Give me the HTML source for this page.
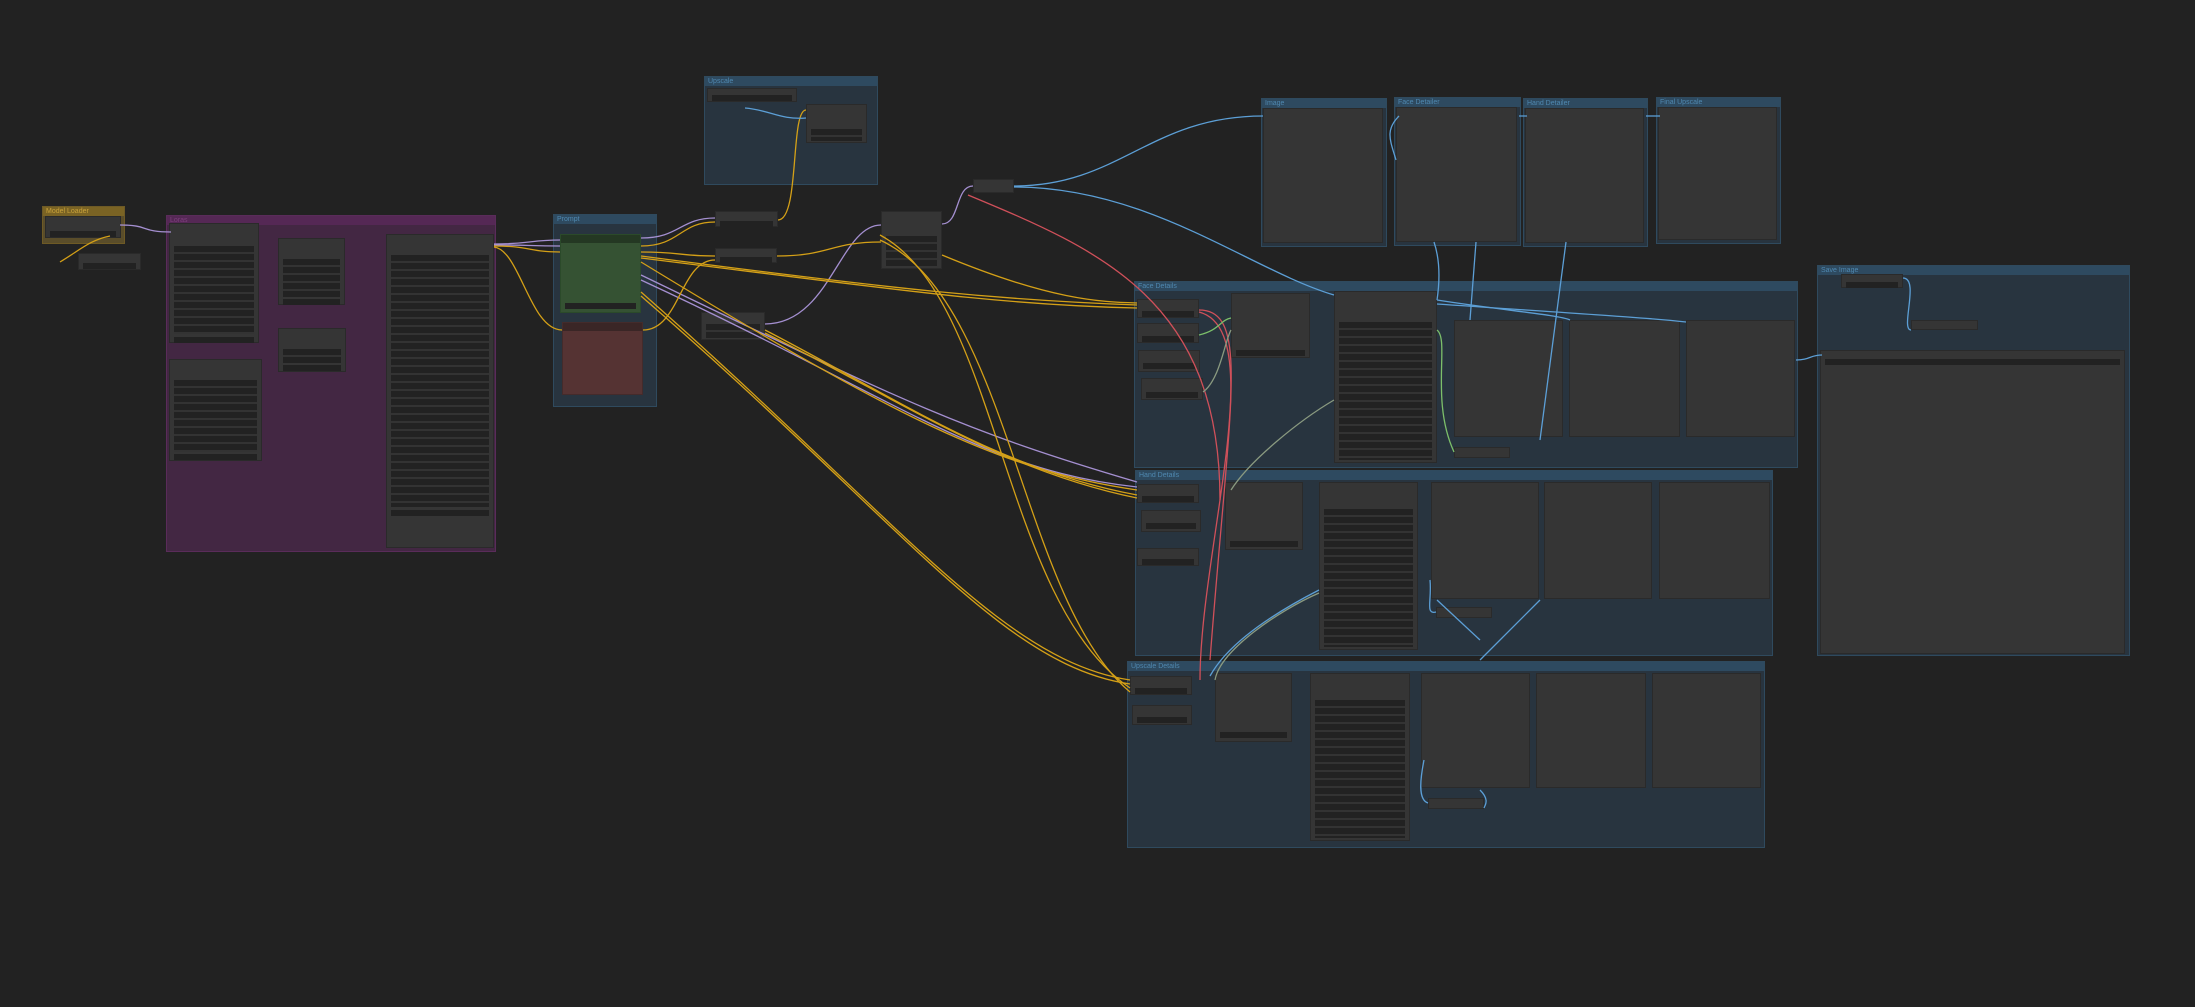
<!DOCTYPE html>
<html><head><meta charset="utf-8"><style>
html,body{margin:0;padding:0;background:#222;width:2195px;height:1007px;overflow:hidden;font-family:"Liberation Sans",sans-serif}
.g{position:absolute;background:#28343f;border:1px solid #2f4a5e}
.g>.t{height:9px;background:#2e4a60;color:#4f88b0;font-size:7px;line-height:9px;padding-left:3px}
.n{position:absolute;background:#353535;border:1px solid #2a2a2a;box-sizing:border-box}
.n>.h{height:8px;background:#2e2e2e}
.rows{position:absolute;left:4px;right:4px;background:repeating-linear-gradient(#222 0 6px,#333 6px 8px)}
.w{position:absolute;height:6px;background:#222;left:4px;right:4px}
svg{position:absolute;left:0;top:0}
</style></head><body>

<!-- yellow group -->
<div class="g" style="left:42px;top:206px;width:81px;height:36px;background:#5a4d2a;border-color:#6e5a25"><div class="t" style="background:#7a6324;color:#c9a23a">Model Loader</div></div>
<div class="n" style="left:45px;top:216px;width:76px;height:22px"><div class="w" style="top:14px"></div></div>
<div class="n" style="left:78px;top:253px;width:63px;height:17px"><div class="w" style="top:9px"></div></div>

<!-- Loras group -->
<div class="g" style="left:166px;top:215px;width:328px;height:335px;background:#432743;border-color:#5a2c5a"><div class="t" style="background:#552855;color:#7d3f7d">Loras</div></div>
<div class="n" style="left:169px;top:223px;width:90px;height:120px"><div class="rows" style="top:22px;height:88px"></div><div class="w" style="top:113px"></div></div>
<div class="n" style="left:169px;top:359px;width:93px;height:102px"><div class="rows" style="top:20px;height:72px"></div><div class="w" style="top:94px"></div></div>
<div class="n" style="left:278px;top:238px;width:67px;height:67px"><div class="rows" style="top:20px;height:38px"></div><div class="w" style="top:60px"></div></div>
<div class="n" style="left:278px;top:328px;width:68px;height:44px"><div class="rows" style="top:20px;height:14px"></div><div class="w" style="top:36px"></div></div>
<div class="n" style="left:386px;top:234px;width:108px;height:314px"><div class="rows" style="top:20px;height:252px"></div><div class="w" style="top:275px"></div></div>

<!-- Prompt group -->
<div class="g" style="left:553px;top:214px;width:102px;height:191px"><div class="t">Prompt</div></div>
<div class="n" style="left:560px;top:234px;width:81px;height:79px;background:#355233;border-color:#2b4a2a"><div class="h" style="background:#243823"></div><div class="w" style="top:68px"></div></div>
<div class="n" style="left:562px;top:322px;width:81px;height:73px;background:#553333;border-color:#442b2b"><div class="h" style="background:#3a2626"></div></div>

<!-- top group -->
<div class="g" style="left:704px;top:76px;width:172px;height:107px"><div class="t">Upscale</div></div>
<div class="n" style="left:707px;top:88px;width:90px;height:14px"><div class="w" style="top:6px"></div></div>
<div class="n" style="left:806px;top:104px;width:61px;height:39px"><div class="rows" style="top:24px;height:12px"></div></div>

<!-- middle nodes -->
<div class="n" style="left:715px;top:211px;width:63px;height:16px"><div class="w" style="top:9px"></div></div>
<div class="n" style="left:715px;top:248px;width:62px;height:15px"><div class="w" style="top:8px"></div></div>
<div class="n" style="left:701px;top:312px;width:64px;height:28px"><div class="rows" style="top:11px;height:14px"></div></div>
<div class="n" style="left:881px;top:211px;width:61px;height:58px"><div class="rows" style="top:24px;height:30px"></div></div>
<div class="n" style="left:973px;top:179px;width:41px;height:14px"></div>

<!-- top boxes -->
<div class="g" style="left:1261px;top:98px;width:124px;height:147px"><div class="t">Image</div></div>
<div class="n" style="left:1263px;top:108px;width:120px;height:135px;background:#353535"></div>
<div class="g" style="left:1394px;top:97px;width:125px;height:147px"><div class="t">Face Detailer</div></div>
<div class="n" style="left:1396px;top:107px;width:121px;height:135px"></div>
<div class="g" style="left:1523px;top:98px;width:123px;height:147px"><div class="t">Hand Detailer</div></div>
<div class="n" style="left:1525px;top:108px;width:119px;height:135px"></div>
<div class="g" style="left:1656px;top:97px;width:123px;height:145px"><div class="t">Final Upscale</div></div>
<div class="n" style="left:1658px;top:107px;width:119px;height:133px"></div>

<!-- Face Details -->
<div class="g" style="left:1134px;top:281px;width:662px;height:185px"><div class="t">Face Details</div></div>
<div class="n" style="left:1137px;top:299px;width:62px;height:19px"><div class="w" style="top:11px"></div></div>
<div class="n" style="left:1137px;top:323px;width:62px;height:20px"><div class="w" style="top:12px"></div></div>
<div class="n" style="left:1138px;top:350px;width:62px;height:22px"><div class="w" style="top:12px"></div></div>
<div class="n" style="left:1141px;top:378px;width:62px;height:22px"><div class="w" style="top:13px"></div></div>
<div class="n" style="left:1231px;top:293px;width:79px;height:65px"><div class="w" style="top:56px"></div></div>
<div class="n" style="left:1334px;top:291px;width:103px;height:172px"><div class="rows" style="top:30px;height:138px"></div></div>
<div class="n" style="left:1454px;top:320px;width:109px;height:117px"></div>
<div class="n" style="left:1569px;top:320px;width:111px;height:117px"></div>
<div class="n" style="left:1686px;top:320px;width:109px;height:117px"></div>
<div class="n" style="left:1454px;top:447px;width:56px;height:11px"></div>

<!-- Hand Details -->
<div class="g" style="left:1135px;top:470px;width:636px;height:184px"><div class="t">Hand Details</div></div>
<div class="n" style="left:1137px;top:484px;width:62px;height:19px"><div class="w" style="top:11px"></div></div>
<div class="n" style="left:1141px;top:510px;width:60px;height:22px"><div class="w" style="top:12px"></div></div>
<div class="n" style="left:1137px;top:548px;width:62px;height:18px"><div class="w" style="top:10px"></div></div>
<div class="n" style="left:1225px;top:482px;width:78px;height:68px"><div class="w" style="top:58px"></div></div>
<div class="n" style="left:1319px;top:482px;width:99px;height:168px"><div class="rows" style="top:26px;height:138px"></div></div>
<div class="n" style="left:1431px;top:482px;width:108px;height:117px"></div>
<div class="n" style="left:1544px;top:482px;width:108px;height:117px"></div>
<div class="n" style="left:1659px;top:482px;width:111px;height:117px"></div>
<div class="n" style="left:1436px;top:607px;width:56px;height:11px"></div>

<!-- Bottom group -->
<div class="g" style="left:1127px;top:661px;width:636px;height:185px"><div class="t">Upscale Details</div></div>
<div class="n" style="left:1130px;top:676px;width:62px;height:19px"><div class="w" style="top:11px"></div></div>
<div class="n" style="left:1132px;top:705px;width:60px;height:20px"><div class="w" style="top:11px"></div></div>
<div class="n" style="left:1215px;top:673px;width:77px;height:69px"><div class="w" style="top:58px"></div></div>
<div class="n" style="left:1310px;top:673px;width:100px;height:168px"><div class="rows" style="top:26px;height:138px"></div></div>
<div class="n" style="left:1421px;top:673px;width:109px;height:115px"></div>
<div class="n" style="left:1536px;top:673px;width:110px;height:115px"></div>
<div class="n" style="left:1652px;top:673px;width:109px;height:115px"></div>
<div class="n" style="left:1428px;top:798px;width:56px;height:11px"></div>

<!-- Far right group -->
<div class="g" style="left:1817px;top:265px;width:311px;height:389px"><div class="t">Save Image</div></div>
<div class="n" style="left:1841px;top:274px;width:62px;height:14px"><div class="w" style="top:7px"></div></div>
<div class="n" style="left:1911px;top:320px;width:67px;height:10px"></div>
<div class="n" style="left:1820px;top:350px;width:305px;height:304px"><div class="w" style="top:8px"></div></div>

<svg width="2195" height="1007" fill="none" stroke-width="1.3">
<g stroke="#a48fd0">
<path d="M120 225 C150 225 140 232 171 232"/>
<path d="M494 244 C530 244 530 240 560 240"/>
<path d="M494 245 C530 245 530 246 560 246"/>
<path d="M641 238 C680 238 680 218 715 218"/>
<path d="M765 324 C830 324 840 225 881 225"/>
<path d="M942 224 C960 224 955 186 973 186"/>
<path d="M641 280 C900 400 980 470 1137 487"/>
<path d="M641 275 C900 400 960 430 1137 482"/>
</g>
<g stroke="#d4a017">
<path d="M60 262 C80 250 90 240 110 236"/>
<path d="M494 246 C530 246 530 252 560 252"/>
<path d="M494 247 C520 250 530 330 562 330"/>
<path d="M641 246 C680 246 680 222 715 222"/>
<path d="M641 252 C680 252 680 256 715 256"/>
<path d="M643 330 C680 330 680 260 715 260"/>
<path d="M641 256 C900 290 1000 300 1137 305"/>
<path d="M641 258 C900 290 1000 305 1137 308"/>
<path d="M778 220 C800 220 790 110 806 110"/>
<path d="M777 256 C830 256 830 242 881 242"/>
<path d="M942 255 C1050 300 1100 302 1137 303"/>
<path d="M641 262 C900 420 1000 470 1137 490"/>
<path d="M641 292 C900 520 1000 660 1130 680"/>
<path d="M641 296 C900 520 1000 665 1130 684"/>
<path d="M880 235 C1000 300 1000 600 1130 688"/>
<path d="M880 240 C1010 300 1020 600 1130 692"/>
<path d="M765 330 C900 400 1000 470 1137 495"/>
<path d="M765 333 C900 400 1000 470 1137 498"/>
</g>
<g stroke="#5c9fd6">
<path d="M1014 186 C1120 186 1150 116 1263 116"/>
<path d="M1014 187 C1150 187 1250 270 1334 295"/>
<path d="M745 108 C770 110 780 120 806 118"/>
<path d="M1399 116 C1385 130 1390 140 1396 160"/>
<path d="M1519 116 C1530 116 1525 116 1527 116"/>
<path d="M1646 116 C1655 116 1650 116 1660 116"/>
<path d="M1434 242 C1440 260 1440 280 1437 300"/>
<path d="M1476 242 L1470 320"/>
<path d="M1566 242 L1540 440"/>
<path d="M1437 300 C1500 310 1560 315 1570 320"/>
<path d="M1437 304 C1600 315 1650 318 1686 322"/>
<path d="M1796 360 C1810 360 1810 355 1822 355"/>
<path d="M1903 278 C1920 278 1900 330 1911 330"/>
<path d="M1437 600 L1480 640"/>
<path d="M1540 600 L1480 660"/>
<path d="M1319 590 C1280 610 1230 640 1210 676"/>
<path d="M1424 760 C1420 780 1418 800 1428 803"/>
<path d="M1480 790 C1490 800 1485 805 1484 808"/>
<path d="M1430 580 C1432 600 1425 615 1436 612"/>
</g>
<g stroke="#d0505a">
<path d="M968 195 C1100 250 1220 300 1220 500"/>
<path d="M1199 310 C1250 310 1230 400 1210 660"/>
<path d="M1199 312 C1270 330 1200 550 1200 680"/>
</g>
<g stroke="#7cbf6a">
<path d="M1437 330 C1450 340 1430 400 1454 452"/>
<path d="M1199 335 C1220 330 1220 320 1231 318"/>
</g>
<g stroke="#8a9a80">
<path d="M1334 400 C1300 420 1250 460 1231 490"/>
<path d="M1319 593 C1280 610 1220 650 1215 680"/>
<path d="M1203 392 C1220 380 1225 340 1231 330"/>
</g>
</svg>
</body></html>
